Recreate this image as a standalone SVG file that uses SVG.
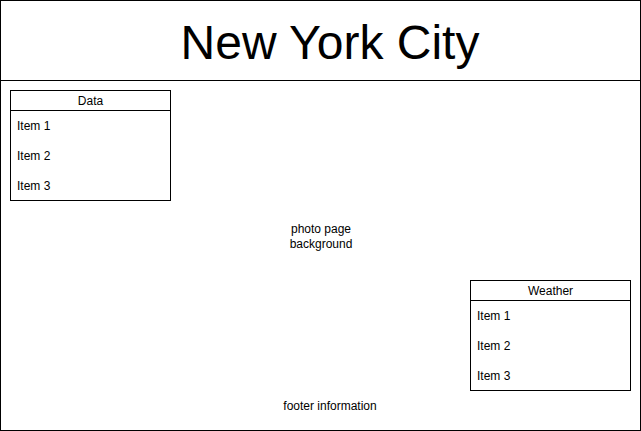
<svg xmlns="http://www.w3.org/2000/svg" width="641" height="431" viewBox="0 0 641 431">
<style>
.b{fill:#fff;stroke:#000;stroke-width:1}
.l{stroke:#000;stroke-width:1;fill:none}
text{font-family:"Liberation Sans",Arial,sans-serif;font-size:12px;fill:#000}
.c{text-anchor:middle}
</style>
<g id="page">
<rect class="b" x="0.5" y="0.5" width="640" height="430"/>
<line class="l" x1="0.5" y1="80.5" x2="640.5" y2="80.5"/>
<text class="c" x="330" y="59" style="font-size:48px">New York City</text>
<text class="c" x="321" y="233">photo page</text>
<text class="c" x="321" y="248">background</text>
<text class="c" x="330" y="410">footer information</text>
</g>
<g id="data">
<rect class="b" x="10.5" y="90.5" width="160" height="110"/>
<line class="l" x1="10.5" y1="110.5" x2="170.5" y2="110.5"/>
<text class="c" x="90.5" y="105">Data</text>
<text x="17" y="130">Item 1</text>
<text x="17" y="160">Item 2</text>
<text x="17" y="190">Item 3</text>
</g>
<g id="weather">
<rect class="b" x="470.5" y="280.5" width="160" height="110"/>
<line class="l" x1="470.5" y1="300.5" x2="630.5" y2="300.5"/>
<text class="c" x="550.5" y="295">Weather</text>
<text x="477" y="320">Item 1</text>
<text x="477" y="350">Item 2</text>
<text x="477" y="380">Item 3</text>
</g>
<g id="connectors"/>
</svg>
